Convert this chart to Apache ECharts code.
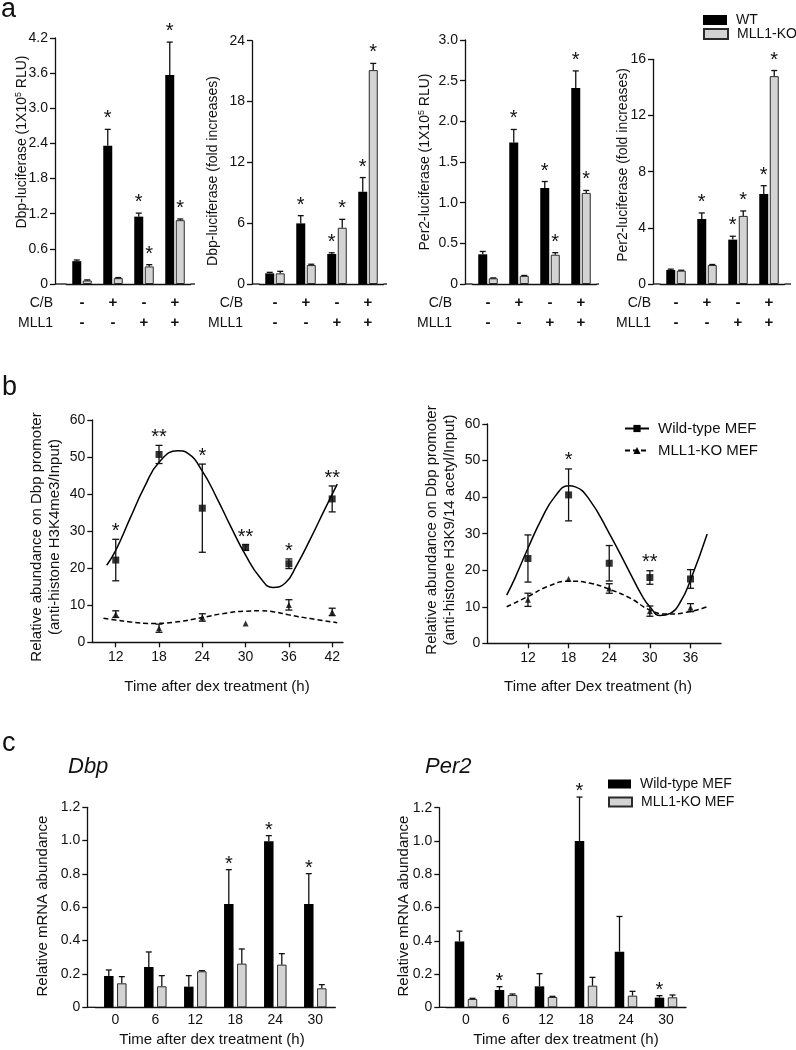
<!DOCTYPE html>
<html><head><meta charset="utf-8">
<script src="https://cdn.jsdelivr.net/npm/echarts@6/dist/echarts.min.js"></script>
<style>html,body{margin:0;padding:0;background:#fff}#c{width:796px;height:1050px}</style>
</head><body><div id="c"></div>
<script>
// ================= DATA =================
// Panel a (luciferase reporter assays)
const aCB = ['-', '+', '-', '+'];
const aMLL1 = ['-', '-', '+', '+'];
const aStarWT = ['', '*', '*', '*'];
const aStarKO = ['', '', '*', '*'];

const a1WT = [0.39, 2.36, 1.15, 3.57];
const a1WTErr = [0.02, 0.28, 0.06, 0.56];
const a1KO = [0.06, 0.10, 0.30, 1.09];
const a1KOErr = [0.01, 0.01, 0.03, 0.02];

const a2WT = [1.05, 5.98, 2.96, 9.1];
const a2WTErr = [0.1, 0.76, 0.12, 1.4];
const a2KO = [1.05, 1.87, 5.55, 21.1];
const a2KOErr = [0.2, 0.08, 0.83, 0.66];

const a3WT = [0.365, 1.74, 1.18, 2.41];
const a3WTErr = [0.035, 0.16, 0.08, 0.21];
const a3KO = [0.07, 0.10, 0.36, 1.12];
const a3KOErr = [0.005, 0.005, 0.025, 0.03];

const a4WT = [1.0, 4.63, 3.16, 6.41];
const a4WTErr = [0.06, 0.43, 0.24, 0.59];
const a4KO = [0.95, 1.35, 4.85, 14.8];
const a4KOErr = [0.03, 0.04, 0.35, 0.4];

// Panel b (ChIP time courses)
const b1X = [12, 18, 24, 30, 36, 42];
const b1WT = [22.2, 50.7, 36.2, 25.6, 21.2, 38.7];
const b1WTErr = [5.6, 2.45, 11.9, 0.8, 1.3, 3.5];
const b1KO = [7.6, 3.8, 6.7, 5.1, 10.1, 8.2];
const b1KOErr = [0.9, 1.1, 1.0, 0, 1.4, 1.0];
const b1Stars = ['*', '**', '*', '**', '*', '**'];
const b1WTFit = [[10.75,20.8],[12,24.8],[14,33.5],[16,42],[18,48.6],[20.6,51.7],[22,51],[24,46.2],[26,39],[28,31],[30,23.5],[32,17.5],[33.8,14.8],[35.5,16],[37,20.5],[39,28],[41,36],[42.7,42.7]];
const b1KOFit = [[10.3,6.5],[12,6.0],[14,5.5],[17,5.1],[20,5.4],[24,6.7],[27,7.8],[30,8.4],[32,8.5],[34,8.2],[36,7.4],[39,6.4],[42.7,5.3]];

const b2X = [12, 18, 24, 30, 36];
const b2WT = [23.2, 40.6, 21.9, 18.0, 17.6];
const b2WTErr = [6.45, 7.1, 4.85, 1.85, 2.55];
const b2KO = [11.9, 17.6, 15.0, 8.8, 9.75];
const b2KOErr = [1.8, 0, 1.3, 1.4, 1.1];
const b2Stars = ['', '*', '', '**', ''];
const b2WTFit = [[8.86,13.2],[10,17.5],[12,26],[14,34],[16,40.2],[18,43.1],[19,42.8],[21,39.5],[24,30.1],[27,19.5],[29,12.5],[30,10],[31.5,7.6],[33,8.2],[34.5,11.3],[36,17.3],[38.46,29.9]];
const b2KOFit = [[8.86,10],[12,12.8],[14.86,15.5],[18,17.0],[21.25,16.4],[24,14.8],[27.15,12.3],[30,9.1],[32.56,8.0],[36,8.7],[38.46,10]];
const bTicks1 = [12, 18, 24, 30, 36, 42];
const bTicks2 = [12, 18, 24, 30, 36];

// Panel c (mRNA time courses)
const cTimes = ['0', '6', '12', '18', '24', '30'];
const c1WT = [0.188, 0.242, 0.124, 0.62, 0.996, 0.62];
const c1WTErr = [0.036, 0.09, 0.066, 0.206, 0.034, 0.182];
const c1KO = [0.144, 0.126, 0.216, 0.262, 0.256, 0.114];
const c1KOErr = [0.04, 0.064, 0.004, 0.088, 0.066, 0.022];
const c1StarWT = ['', '', '', '*', '*', '*'];
const c2WT = [0.396, 0.104, 0.126, 1.0, 0.334, 0.058];
const c2WTErr = [0.062, 0.02, 0.076, 0.264, 0.212, 0.012];
const c2KO = [0.05, 0.074, 0.062, 0.13, 0.07, 0.06];
const c2KOErr = [0.004, 0.006, 0.004, 0.05, 0.026, 0.014];
const c2StarWT = ['', '*', '', '*', '', '*'];
const cStarKO = ['', '', '', '', '', ''];

// ================= STYLE / BUILD =================
const FONT = '"Liberation Sans", Arial, Helvetica, sans-serif';
const INK = '#111';
const GRAY = '#d3d3d3';
const LW = 1.3;

const grids = [], xAxes = [], yAxes = [], series = [], graphics = [], legends = [];

const fmt1 = v => v === 0 ? '0' : (Math.round(v * 10) / 10).toFixed(1);
const fmt0 = v => String(Math.round(v));
const axisLine = { show: true, lineStyle: { color: INK, width: LW } };

function txt(x, y, text, opts) {
  opts = opts || {};
  const style = Object.assign({ text, fill: INK, fontFamily: FONT, fontSize: opts.size || 14,
    fontWeight: opts.weight || 'normal', fontStyle: opts.italic ? 'italic' : 'normal',
    align: opts.align || 'center', verticalAlign: opts.valign || 'middle' }, opts.style || {});
  graphics.push({ type: 'text', x, y, rotation: opts.rot || 0, silent: true, style });
}
function hline(x1, x2, y) {
  graphics.push({ type: 'line', silent: true, shape: { x1, y1: y, x2, y2: y }, style: { stroke: INK, lineWidth: LW } });
}

function barErr(gi, vals, errs, stars, side, w, gap, starOff) {
  return {
    type: 'custom', xAxisIndex: gi, yAxisIndex: gi, z: 5, silent: true, clip: false,
    data: vals.map((v, i) => [i, v, errs[i]]),
    renderItem(params, api) {
      const i = api.value(0), v = api.value(1), e = api.value(2);
      const base = api.coord([i, v]);
      const x = base[0] + side * (w + gap) / 2;
      const yT = api.coord([i, v + e])[1];
      const ch = [];
      if (e > 0) {
        ch.push({ type: 'line', shape: { x1: x, y1: base[1], x2: x, y2: yT }, style: { stroke: INK, lineWidth: LW } });
        ch.push({ type: 'line', shape: { x1: x - 3, y1: yT, x2: x + 3, y2: yT }, style: { stroke: INK, lineWidth: LW } });
      }
      const s = stars[params.dataIndex];
      if (s) ch.push({ type: 'text', x, y: yT - starOff, style: { text: s, fontSize: 20, fontFamily: FONT, fill: INK, align: 'center', verticalAlign: 'middle' } });
      return { type: 'group', children: ch };
    }
  };
}

function ptErr(gi, xs, vals, errs, stars, starOff) {
  return {
    type: 'custom', xAxisIndex: gi, yAxisIndex: gi, z: 4, silent: true, clip: false,
    data: xs.map((h, i) => [h, vals[i], errs[i]]),
    renderItem(params, api) {
      const h = api.value(0), v = api.value(1), e = api.value(2);
      const c = api.coord([h, v]);
      const yT = api.coord([h, v + e])[1];
      const yB = api.coord([h, v - e])[1];
      const ch = [];
      if (e > 0) {
        ch.push({ type: 'line', shape: { x1: c[0], y1: yB, x2: c[0], y2: yT }, style: { stroke: INK, lineWidth: LW } });
        ch.push({ type: 'line', shape: { x1: c[0] - 3.5, y1: yT, x2: c[0] + 3.5, y2: yT }, style: { stroke: INK, lineWidth: LW } });
        ch.push({ type: 'line', shape: { x1: c[0] - 3.5, y1: yB, x2: c[0] + 3.5, y2: yB }, style: { stroke: INK, lineWidth: LW } });
      }
      const s = stars && stars[params.dataIndex];
      if (s) ch.push({ type: 'text', x: c[0], y: yT - starOff, style: { text: s, fontSize: 20, fontFamily: FONT, fill: INK, align: 'center', verticalAlign: 'middle' } });
      return { type: 'group', children: ch };
    }
  };
}

function addBarPanel(p) {
  const gi = grids.length;
  grids.push({ left: p.gridLeft, top: p.top, width: p.width, height: p.height });
  xAxes.push({ type: 'category', gridIndex: gi, data: p.cats, axisLine, axisTick: { show: false },
    axisLabel: { interval: 0, color: INK, fontFamily: FONT, fontSize: p.xFont, fontWeight: p.xWeight || 'normal', lineHeight: p.xLineHeight || p.xFont, margin: p.xMargin } });
  yAxes.push({ type: 'value', gridIndex: gi, min: 0, max: p.yMax, interval: p.yInterval, offset: p.gridLeft - p.yAxisX,
    axisLine, axisTick: { show: true, length: 5, lineStyle: { color: INK, width: LW } }, splitLine: { show: false },
    axisLabel: { color: INK, fontFamily: FONT, fontSize: 14, margin: p.yMargin || 7, formatter: p.fmt } });
  const barGap = (p.gap / p.barW * 100) + '%';
  series.push({ type: 'bar', name: p.names[0], xAxisIndex: gi, yAxisIndex: gi, data: p.wt, barWidth: p.barW, barGap,
    itemStyle: { color: '#000', borderColor: '#000', borderWidth: 0 }, silent: true });
  series.push({ type: 'bar', name: p.names[1], xAxisIndex: gi, yAxisIndex: gi, data: p.ko, barWidth: p.barW, barGap,
    itemStyle: { color: GRAY, borderColor: '#2a2a2a', borderWidth: 1 }, silent: true });
  series.push(barErr(gi, p.wt, p.wtErr, p.starWT, -1, p.barW, p.gap, p.starOff));
  series.push(barErr(gi, p.ko, p.koErr, p.starKO, 1, p.barW, p.gap, p.starOff));
  const yb = p.top + p.height;
  if (p.gridLeft > p.yAxisX) hline(p.yAxisX, p.gridLeft, yb);
  if (p.axisEnd > p.gridLeft + p.width) hline(p.gridLeft + p.width, p.axisEnd, yb);
}

function addLinePanel(p) {
  const gi = grids.length;
  grids.push({ left: p.left, top: p.top, width: p.right - p.left, height: p.bottom - p.top });
  xAxes.push({ type: 'value', gridIndex: gi, min: p.xMin, max: p.xMax, axisLine, splitLine: { show: false },
    axisTick: { show: true, length: 5, customValues: p.ticks, lineStyle: { color: INK, width: LW } },
    axisLabel: { customValues: p.ticks, color: INK, fontFamily: FONT, fontSize: 14, margin: 8 } });
  yAxes.push({ type: 'value', gridIndex: gi, min: 0, max: 60, interval: 10, axisLine,
    axisTick: { show: true, length: 5, lineStyle: { color: INK, width: LW } }, splitLine: { show: false },
    axisLabel: { color: INK, fontFamily: FONT, fontSize: 14, margin: 7, formatter: fmt0 } });
  series.push({ type: 'line', name: p.names[0], xAxisIndex: gi, yAxisIndex: gi, data: p.wtFit, smooth: 0.5,
    symbol: 'rect', showSymbol: false, itemStyle: { color: '#000' }, lineStyle: { color: '#000', width: 1.5 }, z: 2, silent: true });
  series.push({ type: 'line', name: p.names[1], xAxisIndex: gi, yAxisIndex: gi, data: p.koFit, smooth: 0.5,
    symbol: 'triangle', showSymbol: false, itemStyle: { color: '#000' }, lineStyle: { color: '#000', width: 1.5, type: [5, 3] }, z: 2, silent: true });
  series.push({ type: 'scatter', xAxisIndex: gi, yAxisIndex: gi, data: p.x.map((h, i) => [h, p.wt[i]]),
    symbol: 'rect', symbolSize: 7, itemStyle: { color: '#000' }, z: 3, silent: true });
  series.push({ type: 'scatter', xAxisIndex: gi, yAxisIndex: gi, data: p.x.map((h, i) => [h, p.ko[i]]),
    symbol: 'triangle', symbolSize: 6, itemStyle: { color: '#000' }, z: 3, silent: true });
  series.push(ptErr(gi, p.x, p.wt, p.wtErr, p.stars, p.starOff));
  series.push(ptErr(gi, p.x, p.ko, p.koErr, null, p.starOff));
}

// ---- panel a ----
const aCats = aCB.map((c, i) => c + '\n' + aMLL1[i]);
const aCommon = { cats: aCats, xFont: 15, xWeight: 'bold', xLineHeight: 20, xMargin: 9, barW: 9, gap: 1.5,
  names: ['WT', 'MLL1-KO'], starWT: aStarWT, starKO: aStarKO, starOff: 10.5 };
addBarPanel(Object.assign({}, aCommon, { yAxisX: 55, gridLeft: 66.5, width: 124, top: 38, height: 246, axisEnd: 195,
  yMax: 4.2, yInterval: 0.6, fmt: fmt1, wt: a1WT, wtErr: a1WTErr, ko: a1KO, koErr: a1KOErr }));
addBarPanel(Object.assign({}, aCommon, { yAxisX: 252, gridLeft: 259.5, width: 124, top: 40.7, height: 243.3, axisEnd: 387,
  yMax: 24, yInterval: 6, fmt: fmt0, wt: a2WT, wtErr: a2WTErr, ko: a2KO, koErr: a2KOErr }));
addBarPanel(Object.assign({}, aCommon, { yAxisX: 465, gridLeft: 472.5, width: 124, top: 40, height: 244, axisEnd: 599,
  yMax: 3, yInterval: 0.5, fmt: fmt1, wt: a3WT, wtErr: a3WTErr, ko: a3KO, koErr: a3KOErr }));
addBarPanel(Object.assign({}, aCommon, { yAxisX: 653, gridLeft: 660.5, width: 124, top: 59.3, height: 224.7, axisEnd: 791,
  yMax: 16, yInterval: 4, fmt: fmt0, wt: a4WT, wtErr: a4WTErr, ko: a4KO, koErr: a4KOErr }));

// ---- panel b ----
addLinePanel({ left: 92.3, right: 343, top: 420, bottom: 642.3, xMin: 8.75, xMax: 43.5, ticks: bTicks1,
  x: b1X, wt: b1WT, wtErr: b1WTErr, ko: b1KO, koErr: b1KOErr, stars: b1Stars, starOff: 7.5,
  wtFit: b1WTFit, koFit: b1KOFit, names: ['b1-WT', 'b1-KO'] });
addLinePanel({ left: 487.3, right: 721, top: 424, bottom: 643.3, xMin: 6, xMax: 40.5, ticks: bTicks2,
  x: b2X, wt: b2WT, wtErr: b2WTErr, ko: b2KO, koErr: b2KOErr, stars: b2Stars, starOff: 8.5,
  wtFit: b2WTFit, koFit: b2KOFit, names: ['Wild-type MEF', 'MLL1-KO MEF'] });

// ---- panel c ----
const cCommon = { cats: cTimes, xFont: 14, xMargin: 6, barW: 9.5, gap: 3.5, names: ['c-WT', 'c-KO'],
  starKO: cStarKO, starOff: 5.5, yMax: 1.2, yInterval: 0.2, fmt: fmt1 };
addBarPanel(Object.assign({}, cCommon, { yAxisX: 87.3, gridLeft: 95.3, width: 240, top: 807.3, height: 200, axisEnd: 333,
  wt: c1WT, wtErr: c1WTErr, ko: c1KO, koErr: c1KOErr, starWT: c1StarWT }));
addBarPanel(Object.assign({}, cCommon, { yAxisX: 439.3, gridLeft: 446, width: 240, top: 807.7, height: 199.6, axisEnd: 683,
  wt: c2WT, wtErr: c2WTErr, ko: c2KO, koErr: c2KOErr, starWT: c2StarWT }));

// ---- legends ----
function leg(name, left, top, w, h, size, icon, label) {
  const l = { data: [name], left, top, padding: 0, itemWidth: w, itemHeight: h, selectedMode: false,
    textStyle: { fontSize: size, color: INK, fontFamily: FONT, padding: [0, 0, 0, 4] } };
  if (icon) l.icon = icon;
  if (label) l.formatter = () => label;
  legends.push(l);
}
leg('WT', 703, 13, 24, 10, 14, 'rect');
leg('MLL1-KO', 703, 27, 24, 10, 14, 'rect');
leg('Wild-type MEF', 624, 421, 24, 9, 15, null);
leg('MLL1-KO MEF', 624, 443, 24, 9, 15, null);
leg('c-WT', 608, 777, 23, 9, 14, 'rect', 'Wild-type MEF');
leg('c-KO', 608, 795, 23, 9, 14, 'rect', 'MLL1-KO MEF');

// ---- texts ----
const R = Math.PI / 2;
txt(1, 10, 'a', { size: 27, align: 'left' });
txt(2, 388, 'b', { size: 27, align: 'left' });
txt(2, 744, 'c', { size: 27, align: 'left' });

const supRich = { sup: { fontSize: 9, verticalAlign: 'top', lineHeight: 16, fontFamily: FONT, fill: INK } };
txt(22, 142, 'Dbp-luciferase (1X10{sup|5} RLU)', { rot: R, style: { rich: supRich, lineHeight: 16 } });
txt(213, 171, 'Dbp-luciferase (fold increases)', { rot: R });
txt(425, 162, 'Per2-luciferase (1X10{sup|5} RLU)', { rot: R, style: { rich: supRich, lineHeight: 16 } });
txt(623, 165, 'Per2-luciferase (fold increases)', { rot: R });
[[53], [243], [452], [651]].forEach(([x]) => {
  txt(x, 303, 'C/B', { align: 'right' });
  txt(x, 323, 'MLL1', { align: 'right' });
});

txt(46, 537, 'Relative abundance on Dbp promoter\n(anti-histone H3K4me3/Input)', { size: 15, rot: R, style: { lineHeight: 18 } });
txt(441, 530, 'Relative abundance on Dbp promoter\n(anti-histone H3K9/14 acetyl/Input)', { size: 15, rot: R, style: { lineHeight: 18 } });
txt(217, 687, 'Time after dex treatment (h)', { size: 15 });
txt(598, 687, 'Time after Dex treatment (h)', { size: 15 });

txt(68, 767, 'Dbp', { size: 22, italic: true, align: 'left' });
txt(425, 767, 'Per2', { size: 22, italic: true, align: 'left' });
txt(43, 906, 'Relative mRNA abundance', { size: 15, rot: R });
txt(404, 906, 'Relative mRNA abundance', { size: 15, rot: R });
txt(212, 1040, 'Time after dex treatment (h)', { size: 15 });
txt(566, 1040, 'Time after dex treatment (h)', { size: 15 });

const chart = echarts.init(document.getElementById('c'), null, { renderer: 'canvas', width: 796, height: 1050 });
chart.setOption({
  backgroundColor: '#fff',
  animation: false,
  textStyle: { fontFamily: FONT },
  grid: grids, xAxis: xAxes, yAxis: yAxes, series, legend: legends,
  graphic: { elements: graphics }
});
</script>
</body></html>
